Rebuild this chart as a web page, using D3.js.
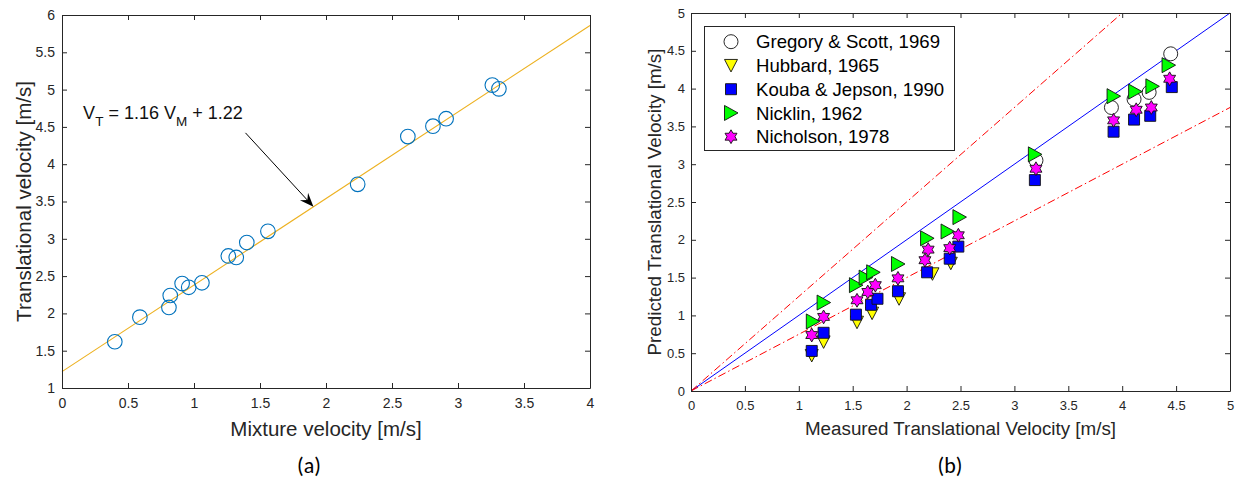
<!DOCTYPE html>
<html>
<head>
<meta charset="utf-8">
<script src="https://cdn.jsdelivr.net/npm/d3@7"></script>
<style>
  html, body { margin: 0; padding: 0; background: #fff; }
  svg { display: block; font-family: "Liberation Sans", Arial, Helvetica, sans-serif; }
</style>
</head>
<body>
<svg id="fig" width="1244" height="480"></svg>
<script>
// ---------- (a) translational velocity against mixture velocity ----------
const mixtureVelocity       = [0.40, 0.59, 0.81, 0.82, 0.91, 0.96, 1.06, 1.26, 1.32, 1.40, 1.56, 2.24, 2.62, 2.81, 2.91, 3.26, 3.31];
const translationalVelocity = [1.62, 1.95, 2.08, 2.24, 2.40, 2.35, 2.41, 2.77, 2.75, 2.95, 3.10, 3.73, 4.37, 4.51, 4.61, 5.06, 5.01];
const fitSlope = 1.16;
const fitIntercept = 1.22;
const fitRange = [0, 4];

const ticksAx = [0, 0.5, 1, 1.5, 2, 2.5, 3, 3.5, 4];
const tickLabelsAx = ["0", "0.5", "1", "1.5", "2", "2.5", "3", "3.5", "4"];
const ticksAy = [1, 1.5, 2, 2.5, 3, 3.5, 4, 4.5, 5, 5.5, 6];
const tickLabelsAy = ["1", "1.5", "2", "2.5", "3", "3.5", "4", "4.5", "5", "5.5", "6"];

// ---------- (b) predicted against measured translational velocity ----------
const seriesNames = ["Gregory & Scott, 1969", "Hubbard, 1965", "Kouba & Jepson, 1990", "Nicklin, 1962", "Nicholson, 1978"];

const gregoryMeasured  = [3.20, 3.90, 4.11, 4.25, 4.45];
const gregoryPredicted = [3.05, 3.75, 3.86, 3.95, 4.46];

const hubbardMeasured  = [1.12, 1.23, 1.54, 1.68, 1.93, 2.24, 2.41];
const hubbardPredicted = [0.47, 0.65, 0.91, 1.03, 1.22, 1.55, 1.69];

const koubaMeasured  = [1.12, 1.23, 1.53, 1.67, 1.73, 1.92, 2.19, 2.40, 2.48, 3.19, 3.92, 4.11, 4.26, 4.46];
const koubaPredicted = [0.53, 0.77, 1.01, 1.14, 1.22, 1.32, 1.57, 1.75, 1.91, 2.79, 3.43, 3.59, 3.64, 4.02];

const nicklinMeasured  = [1.13, 1.23, 1.53, 1.62, 1.69, 1.92, 2.19, 2.38, 2.49, 3.19, 3.92, 4.12, 4.28, 4.43];
const nicklinPredicted = [0.92, 1.17, 1.40, 1.50, 1.57, 1.68, 2.02, 2.11, 2.30, 3.13, 3.90, 3.96, 4.03, 4.31];

const nicholsonMeasured  = [1.12, 1.23, 1.54, 1.64, 1.71, 1.92, 2.17, 2.20, 2.40, 2.48, 3.20, 3.92, 4.13, 4.27, 4.44];
const nicholsonPredicted = [0.74, 0.98, 1.20, 1.31, 1.40, 1.49, 1.73, 1.87, 1.89, 2.06, 2.94, 3.58, 3.72, 3.75, 4.13];

const parityFactors = [1, 1.25, 0.75];   // y = x and the ±25 % bands

const ticksB = [0, 0.5, 1, 1.5, 2, 2.5, 3, 3.5, 4, 4.5, 5];
const tickLabelsB = ["0", "0.5", "1", "1.5", "2", "2.5", "3", "3.5", "4", "4.5", "5"];

// ---------- drawing ----------
const AX = "#262626";
const svg = d3.select("#fig");

function drawBox(g, x, y, tx, tlx, ty, tly, fontSize, padX, padY) {
  const [x0, x1] = x.range();
  const [y0, y1] = y.range();
  const style = sel => {
    sel.attr("font-family", null).attr("font-size", fontSize);
    sel.select(".domain").attr("stroke", AX);
    sel.selectAll(".tick line").attr("stroke", AX);
    sel.selectAll(".tick text").attr("fill", AX);
  };
  g.append("g").attr("transform", `translate(0,${y0})`)
    .call(d3.axisBottom(x).tickValues(tx).tickFormat((d, i) => tlx[i])
      .tickSizeInner(-5).tickSizeOuter(0).tickPadding(padX)).call(style);
  g.append("g").attr("transform", `translate(0,${y1})`)
    .call(d3.axisTop(x).tickValues(tx).tickFormat("")
      .tickSizeInner(-5).tickSizeOuter(0)).call(style);
  g.append("g").attr("transform", `translate(${x0},0)`)
    .call(d3.axisLeft(y).tickValues(ty).tickFormat((d, i) => tly[i])
      .tickSizeInner(-5).tickSizeOuter(0).tickPadding(padY)).call(style);
  g.append("g").attr("transform", `translate(${x1},0)`)
    .call(d3.axisRight(y).tickValues(ty).tickFormat("")
      .tickSizeInner(-5).tickSizeOuter(0)).call(style);
}

// ----- panel (a) -----
const xA = d3.scaleLinear().domain([0, 4]).range([62, 590]);
const yA = d3.scaleLinear().domain([1, 6]).range([388, 15]);
const gA = svg.append("g");

// fitted line
gA.append("line")
  .attr("x1", xA(fitRange[0])).attr("y1", yA(fitSlope * fitRange[0] + fitIntercept))
  .attr("x2", xA(fitRange[1])).attr("y2", yA(fitSlope * fitRange[1] + fitIntercept))
  .attr("stroke", "#EDB120").attr("stroke-width", 1.1);

// measurements
gA.append("g").selectAll("circle")
  .data(mixtureVelocity.map((v, i) => [v, translationalVelocity[i]]))
  .join("circle")
  .attr("cx", d => xA(d[0])).attr("cy", d => yA(d[1])).attr("r", 7.3)
  .attr("fill", "none").attr("stroke", "#0072BD").attr("stroke-width", 1.1);

drawBox(gA, xA, yA, ticksAx, tickLabelsAx, ticksAy, tickLabelsAy, 14, 10, 7);

// equation annotation with arrow pointing at the fit
const eqX = 0.16, eqY = 4.61;
const eq = gA.append("text").attr("x", xA(eqX)).attr("y", yA(eqY))
  .attr("font-size", 18).attr("fill", "#111");
eq.append("tspan").text("V");
eq.append("tspan").attr("font-size", 13.5).attr("dy", 7).text("T");
eq.append("tspan").attr("dy", -7).text(" = 1.16 V");
eq.append("tspan").attr("font-size", 13.5).attr("dy", 7).text("M");
eq.append("tspan").attr("dy", -7).text(" + 1.22");

const arrowFrom = [1.39, 4.42];
const arrowToX = 1.905;
const p0 = [xA(arrowFrom[0]), yA(arrowFrom[1])];
const p1 = [xA(arrowToX), yA(fitSlope * arrowToX + fitIntercept)];
{
  const dx = p1[0] - p0[0], dy = p1[1] - p0[1];
  const len = Math.hypot(dx, dy);
  const ux = dx / len, uy = dy / len, nx = -uy, ny = ux;
  const L = 14, W = 11, notch = 9;
  const back = [p1[0] - ux * L, p1[1] - uy * L];
  const mid = [p1[0] - ux * notch, p1[1] - uy * notch];
  gA.append("line")
    .attr("x1", p0[0]).attr("y1", p0[1]).attr("x2", mid[0]).attr("y2", mid[1])
    .attr("stroke", "#000").attr("stroke-width", 1);
  gA.append("path")
    .attr("d", `M${p1[0]},${p1[1]}L${back[0] + nx * W / 2},${back[1] + ny * W / 2}L${mid[0]},${mid[1]}L${back[0] - nx * W / 2},${back[1] - ny * W / 2}Z`)
    .attr("fill", "#000");
}

// axis titles
gA.append("text").attr("x", (xA.range()[0] + xA.range()[1]) / 2).attr("y", 436)
  .attr("text-anchor", "middle").attr("font-size", 20.5).attr("fill", AX)
  .text("Mixture velocity [m/s]");
gA.append("text").attr("transform", `translate(31,${(yA.range()[0] + yA.range()[1]) / 2}) rotate(-90)`)
  .attr("text-anchor", "middle").attr("font-size", 20.5).attr("fill", AX)
  .text("Translational velocity [m/s]");
gA.append("text").attr("x", 309).attr("y", 473).attr("text-anchor", "middle")
  .attr("font-family", "Carlito, Calibri, Lato, sans-serif").attr("font-size", 22).attr("fill", "#000")
  .text("(a)");

// ----- panel (b) -----
const xB = d3.scaleLinear().domain([0, 5]).range([691, 1230]);
const yB = d3.scaleLinear().domain([0, 5]).range([391, 13]);
const gB = svg.append("g");

// parity lines
const xMax = 5, yMax = 5;
parityFactors.forEach((k, i) => {
  const xe = Math.min(xMax, yMax / k);
  gB.append("line")
    .attr("x1", xB(0)).attr("y1", yB(0)).attr("x2", xB(xe)).attr("y2", yB(k * xe))
    .attr("stroke", i === 0 ? "#0000FF" : "#FF0000").attr("stroke-width", 1)
    .attr("stroke-dasharray", i === 0 ? null : "8,3,1.5,3");
});

// marker shapes
function hexagram(R) {
  const r = R / Math.sqrt(3);
  const pts = [];
  for (let k = 0; k < 12; k++) {
    const a = (-90 + k * 30) * Math.PI / 180;
    const rr = k % 2 === 0 ? R : r;
    pts.push([rr * Math.cos(a), rr * Math.sin(a)]);
  }
  return "M" + pts.map(p => p.join(",")).join("L") + "Z";
}
const markerShapes = [
  d3.symbol(d3.symbolCircle, Math.PI * 7 * 7)(),
  "M-6.5,-6L6.5,-6L0,6.5Z",
  "M-5.5,-5.5h11v11h-11Z",
  "M-6.5,-7.5L7,0L-6.5,7.5Z",
  hexagram(6.9)
];
const markerFills = ["#FFFFFF", "#FFFF00", "#0000FF", "#00FF00", "#FF00FF"];
const seriesData = [
  [gregoryMeasured, gregoryPredicted],
  [hubbardMeasured, hubbardPredicted],
  [koubaMeasured, koubaPredicted],
  [nicklinMeasured, nicklinPredicted],
  [nicholsonMeasured, nicholsonPredicted]
];

seriesData.forEach(([mx, py], s) => {
  gB.append("g").selectAll("path")
    .data(mx.map((v, i) => [v, py[i]]))
    .join("path")
    .attr("d", markerShapes[s])
    .attr("transform", d => `translate(${xB(d[0])},${yB(d[1])})`)
    .attr("fill", markerFills[s]).attr("stroke", "#111").attr("stroke-width", 0.9);
});

drawBox(gB, xB, yB, ticksB, tickLabelsB, ticksB, tickLabelsB, 13, 10, 6);

// legend
const lg = gB.append("g");
lg.append("rect").attr("x", 704.5).attr("y", 26.5).attr("width", 250).attr("height", 124)
  .attr("fill", "#fff").attr("stroke", AX).attr("stroke-width", 1);
seriesNames.forEach((name, i) => {
  const cy = 41.7 + i * 23.75;
  lg.append("path").attr("d", markerShapes[i]).attr("transform", `translate(731,${cy})`)
    .attr("fill", markerFills[i]).attr("stroke", "#111").attr("stroke-width", 0.9);
  lg.append("text").attr("x", 756).attr("y", cy + 6.6).attr("font-size", 18.6).attr("fill", "#000")
    .text(name);
});

// axis titles
gB.append("text").attr("x", (xB.range()[0] + xB.range()[1]) / 2).attr("y", 435)
  .attr("text-anchor", "middle").attr("font-size", 18.8).attr("fill", AX)
  .text("Measured Translational Velocity [m/s]");
gB.append("text").attr("transform", `translate(661,${(yB.range()[0] + yB.range()[1]) / 2}) rotate(-90)`)
  .attr("text-anchor", "middle").attr("font-size", 18.8).attr("fill", AX)
  .text("Predicted Translational Velocity [m/s]");
gB.append("text").attr("x", 950).attr("y", 473).attr("text-anchor", "middle")
  .attr("font-family", "Carlito, Calibri, Lato, sans-serif").attr("font-size", 22).attr("fill", "#000")
  .text("(b)");
</script>
</body>
</html>
